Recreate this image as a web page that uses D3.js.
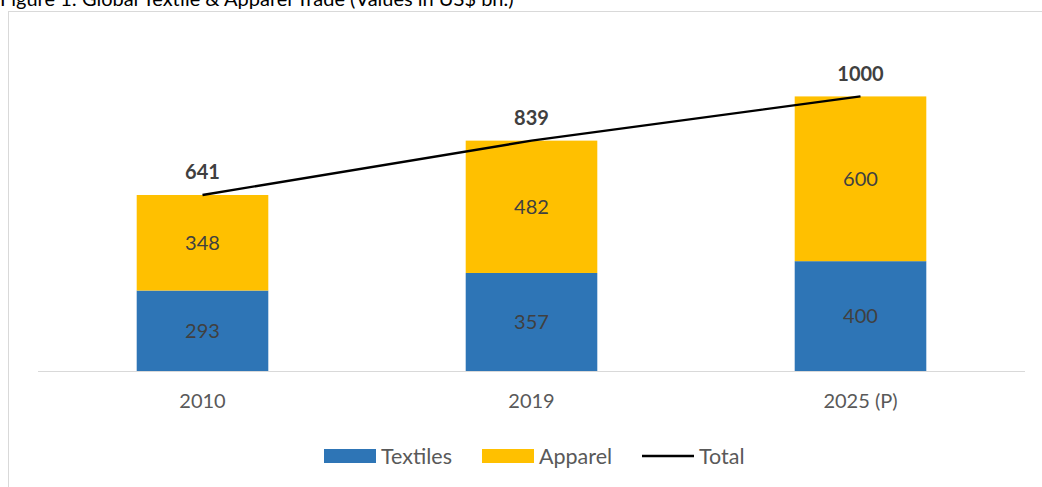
<!DOCTYPE html>
<html>
<head>
<meta charset="utf-8">
<script src="https://cdn.jsdelivr.net/npm/d3@7"></script>
<style>
  html, body { margin: 0; padding: 0; background: #fff; }
  svg { display: block; font-family: Lato, "Open Sans", sans-serif; }
</style>
</head>
<body>
<svg id="chart" width="1042" height="487"></svg>
<script>
// chart data
const years = ["2010", "2019", "2025 (P)"];
const textiles = [293, 357, 400];
const apparel = [348, 482, 600];
const totals = [641, 839, 1000];
const seriesNames = ["Textiles", "Apparel", "Total"];
const colors = {Textiles: "#2E75B6", Apparel: "#FFC000", Total: "#000000"};

const svg = d3.select("#chart");
const W = +svg.attr("width");
const H = +svg.attr("height");

// title (top partially cut off in the original)
svg.append("text")
    .attr("x", 0)
    .attr("y", 6)
    .attr("font-size", 20)
    .attr("fill", "#000")
    .text("Figure 1: Global Textile & Apparel Trade (Values in US$ bn.)");

// chart frame
svg.append("rect")
    .attr("x", 8.5)
    .attr("y", 11.5)
    .attr("width", W)
    .attr("height", H)
    .attr("fill", "none")
    .attr("stroke", "#d9d9d9")
    .attr("stroke-width", 1);

// scales
const xScale = d3.scaleBand()
    .domain(years)
    .range([38, 1025])
    .paddingInner(0.6)
    .paddingOuter(0.3);

const yScale = d3.scaleLinear()
    .domain([0, 1200])
    .range([371, 41.5]);

const rows = years.map((y, i) => ({year: y, Textiles: textiles[i], Apparel: apparel[i], total: totals[i]}));
const stacked = d3.stack().keys(["Textiles", "Apparel"])(rows);

// bars
const layers = svg.append("g").selectAll("g")
    .data(stacked)
    .join("g")
    .attr("fill", d => colors[d.key]);

layers.selectAll("rect")
    .data(d => d)
    .join("rect")
    .attr("x", d => xScale(d.data.year))
    .attr("width", xScale.bandwidth())
    .attr("y", d => yScale(d[1]))
    .attr("height", d => yScale(d[0]) - yScale(d[1]));

// segment labels
layers.selectAll("text")
    .data(d => d.map(s => Object.assign(s, {key: d.key})))
    .join("text")
    .attr("x", d => xScale(d.data.year) + xScale.bandwidth() / 2)
    .attr("y", d => (yScale(d[0]) + yScale(d[1])) / 2)
    .attr("dy", "0.36em")
    .attr("text-anchor", "middle")
    .attr("font-size", 20)
    .attr("fill", "#404040")
    .text(d => d.data[d.key]);

// x axis
const xAxis = svg.append("g")
    .attr("transform", "translate(0,371)")
    .call(d3.axisBottom(xScale).tickSize(0).tickPadding(23));
xAxis.select(".domain")
    .attr("stroke", "#d9d9d9")
    .attr("d", "M38,0.5H1025");
xAxis.selectAll("text")
    .attr("font-family", "Lato, 'Open Sans', sans-serif")
    .attr("font-size", 20)
    .attr("fill", "#595959");

// total line
const line = d3.line()
    .x(d => xScale(d.year) + xScale.bandwidth() / 2)
    .y(d => yScale(d.total));

svg.append("path")
    .datum(rows)
    .attr("d", line)
    .attr("fill", "none")
    .attr("stroke", colors.Total)
    .attr("stroke-width", 2.4);

svg.append("g").selectAll("text")
    .data(rows)
    .join("text")
    .attr("x", d => xScale(d.year) + xScale.bandwidth() / 2)
    .attr("y", d => yScale(d.total) - 23)
    .attr("dy", "0.36em")
    .attr("text-anchor", "middle")
    .attr("font-size", 20)
    .attr("font-weight", "bold")
    .attr("fill", "#404040")
    .text(d => d.total);

// legend
const legendX = [324, 482, 642];
const legend = svg.append("g").selectAll("g")
    .data(seriesNames)
    .join("g")
    .attr("transform", (d, i) => `translate(${legendX[i]},456)`);

legend.filter(d => d !== "Total").append("rect")
    .attr("x", 0)
    .attr("y", -7)
    .attr("width", 52)
    .attr("height", 14)
    .attr("fill", d => colors[d]);

legend.filter(d => d === "Total").append("line")
    .attr("x1", 0)
    .attr("x2", 52)
    .attr("stroke", colors.Total)
    .attr("stroke-width", 2.4);

legend.append("text")
    .attr("x", 57)
    .attr("dy", "0.36em")
    .attr("font-size", 21.5)
    .attr("fill", "#595959")
    .text(d => d);
</script>
</body>
</html>
